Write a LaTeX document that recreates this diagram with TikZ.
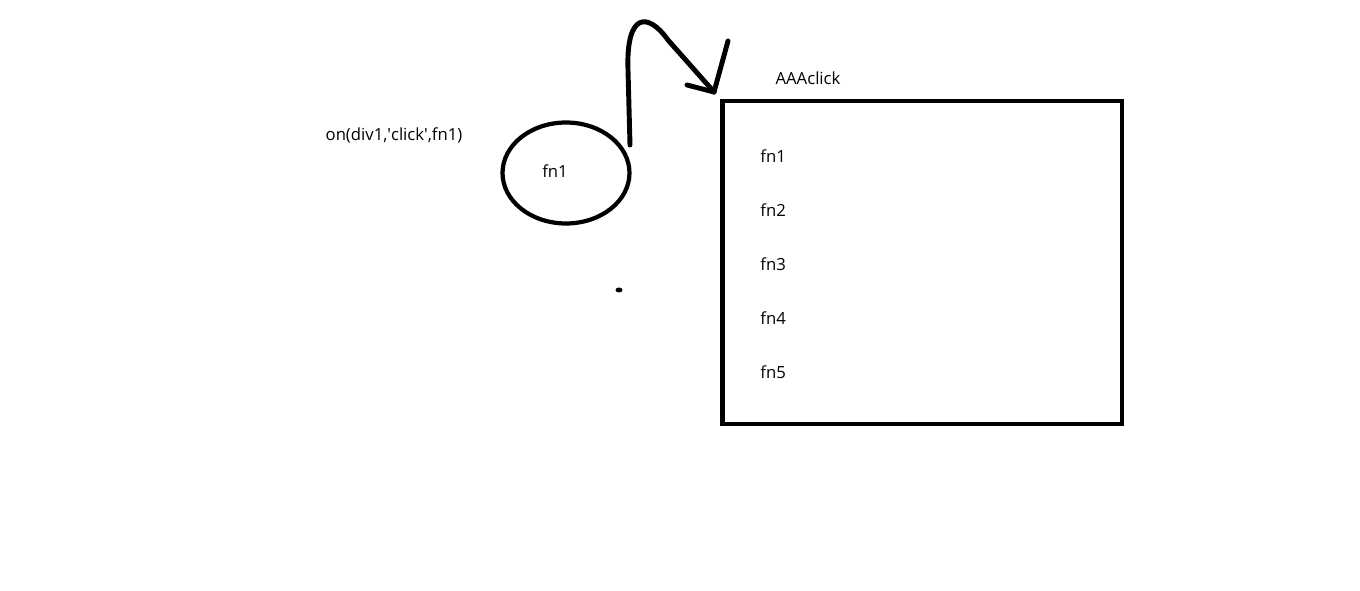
\documentclass[tikz,border=0pt]{standalone}
\usepackage{fontspec}
\setmainfont{Open Sans}
\usetikzlibrary{positioning, shapes.geometric}
\tikzset{
	lbl/.style = {font=\fontsize{9.5}{11}\selectfont, inner sep=0pt},
	stroke/.style = {line width=2.8pt, line cap=round, line join=round}}

\begin{document}
\begin{tikzpicture}[x=0.02cm, y=-0.02cm]
\useasboundingbox (0,0) rectangle (1360,591);

% NODES
% handler
\node (fnellipse) [ellipse, draw, line width=2.4pt, minimum width=2.54cm, minimum height=2.02cm] at (566,173) {};
\node (fnlabel) [lbl] at (555,171) {fn1};
\node (call) [lbl] at (394,135) {on(div1,\textquotesingle click\textquotesingle,fn1)};
\fill (619,290) ellipse (3.5 and 2.5);
% list
\node (box) [draw, line width=2.8pt, minimum width=8cm, minimum height=6.46cm] at (922,262.5) {};
\node (boxlabel) [lbl] at (808,78) {AAAclick};
\node (f1) [lbl, anchor=west] at (760,156) {fn1};
\node (f2) [lbl, anchor=west] at (760,210) {fn2};
\node (f3) [lbl, anchor=west] at (760,264) {fn3};
\node (f4) [lbl, anchor=west] at (760,318) {fn4};
\node (f5) [lbl, anchor=west] at (760,372) {fn5};
\coordinate (start) at (630,145);
\coordinate (tip) at (714,92);

%CONNECTIONS
\draw [stroke] (start) -- (628,70) .. controls (626,12) and (648,12) .. (668,40) -- (tip);
\draw [stroke] (tip) -- (728,41);
\draw [stroke] (tip) -- (687,85);

\end{tikzpicture}
\end{document}
